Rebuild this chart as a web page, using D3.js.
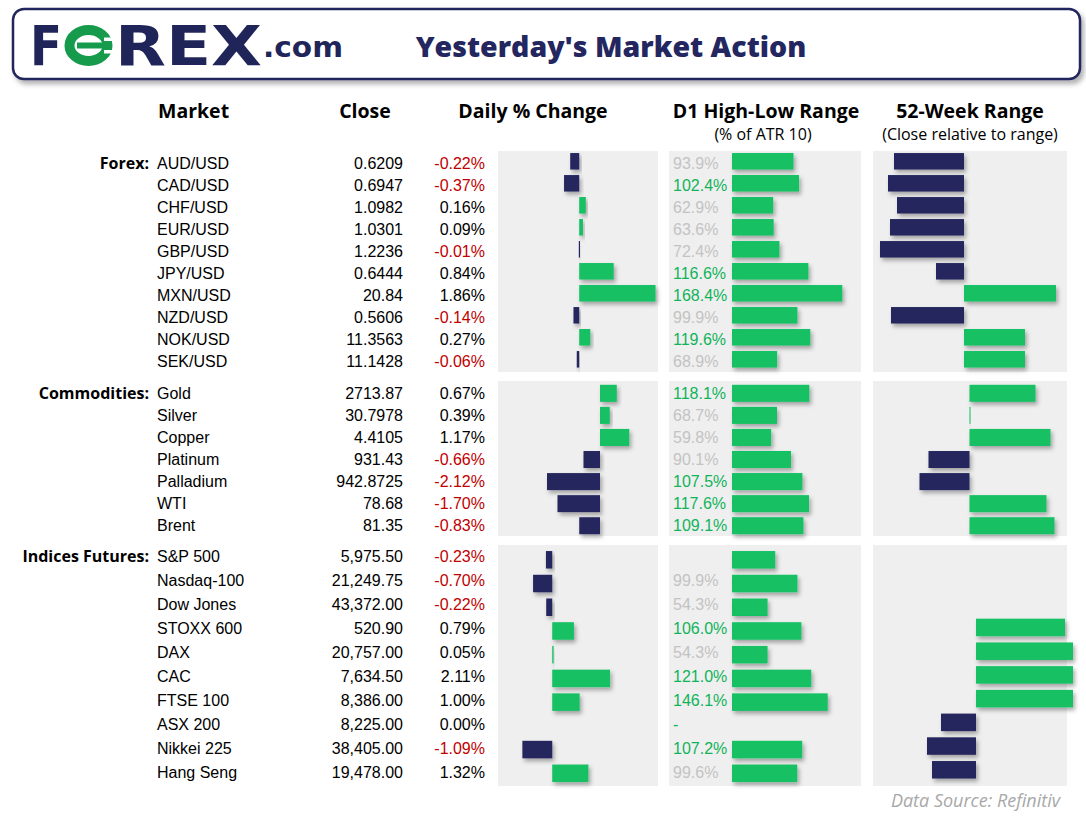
<!DOCTYPE html>
<html>
<head>
<meta charset="utf-8">
<script src="https://cdn.jsdelivr.net/npm/d3@7"></script>
<style>
  html,body{margin:0;padding:0;background:#fff;}
  svg{display:block;}
</style>
</head>
<body>
<svg id="chart" width="1086" height="821"></svg>
<script>
// ---------------- DATA ----------------
const sectionNames = ["Forex:", "Commodities:", "Indices Futures:"];

const forexMarkets = ["AUD/USD","CAD/USD","CHF/USD","EUR/USD","GBP/USD","JPY/USD","MXN/USD","NZD/USD","NOK/USD","SEK/USD"];
const forexClose   = ["0.6209","0.6947","1.0982","1.0301","1.2236","0.6444","20.84","0.5606","11.3563","11.1428"];
const forexChange  = [-0.22,-0.37,0.16,0.09,-0.01,0.84,1.86,-0.14,0.27,-0.06];
const forexD1      = [93.9,102.4,62.9,63.6,72.4,116.6,168.4,99.9,119.6,68.9];
const forexD1Text  = ["93.9%","102.4%","62.9%","63.6%","72.4%","116.6%","168.4%","99.9%","119.6%","68.9%"];
const forex52w     = [-0.70,-0.76,-0.67,-0.74,-0.84,-0.28,0.92,-0.73,0.61,0.61];

const commMarkets = ["Gold","Silver","Copper","Platinum","Palladium","WTI","Brent"];
const commClose   = ["2713.87","30.7978","4.4105","931.43","942.8725","78.68","81.35"];
const commChange  = [0.67,0.39,1.17,-0.66,-2.12,-1.70,-0.83];
const commD1      = [118.1,68.7,59.8,90.1,107.5,117.6,109.1];
const commD1Text  = ["118.1%","68.7%","59.8%","90.1%","107.5%","117.6%","109.1%"];
const comm52w     = [0.66,0.01,0.81,-0.41,-0.50,0.77,0.85];

const idxMarkets = ["S&P 500","Nasdaq-100","Dow Jones","STOXX 600","DAX","CAC","FTSE 100","ASX 200","Nikkei 225","Hang Seng"];
const idxClose   = ["5,975.50","21,249.75","43,372.00","520.90","20,757.00","7,634.50","8,386.00","8,225.00","38,405.00","19,478.00"];
const idxChange  = [-0.23,-0.70,-0.22,0.79,0.05,2.11,1.00,0.00,-1.09,1.32];
const idxD1      = [66.0,99.9,54.3,106.0,54.3,121.0,146.1,null,107.2,99.6];
const idxD1Text  = ["","99.9%","54.3%","106.0%","54.3%","121.0%","146.1%","-","107.2%","99.6%"];
const idx52w     = [null,null,null,0.89,0.97,0.97,0.97,-0.35,-0.49,-0.44];

const columnTitles = ["Market","Close","Daily % Change","D1 High-Low Range","52-Week Range"];
const columnSubtitles = ["(% of ATR 10)","(Close relative to range)"];
const titleText = "Yesterday's Market Action";
const sourceText = "Data Source: Refinitiv";

// ---------------- STYLE / LAYOUT ----------------
const NAVY = "#25265f", GREEN = "#12c063", GREEN_TXT = "#0fb45a", GREY_TXT = "#c3c3c3", RED = "#c00000", PANEL = "#efefef";
const rowFont = "'Liberation Sans', Arial, sans-serif";
const headFont = "'Open Sans', sans-serif";

const panelX = { daily:[498,658], d1:[669,861], wk:[873,1067] };
const d1Start = 732, d1PxPer100 = 65.5;

const layouts = [
  {top:151, bottom:372, first:161.3, pitch:22.0,  textFirst:163.3, textPitch:22.0,  barH:16.5, dailyDomain:[-1.98,1.92], wkZero:964,   wkDy:0},
  {top:381, bottom:536, first:393.3, pitch:22.07, textFirst:393.3, textPitch:22.07, barH:17,   dailyDomain:[-4.08,2.32], wkZero:969.5, wkDy:0},
  {top:545, bottom:786, first:559.8, pitch:23.72, textFirst:556.7, textPitch:24.0,  barH:17.5, dailyDomain:[-1.98,3.86], wkZero:976,   wkDy:-3.5}
];

const sections = [
  {name:sectionNames[0], markets:forexMarkets, close:forexClose, change:forexChange, d1:forexD1, d1Text:forexD1Text, wk:forex52w},
  {name:sectionNames[1], markets:commMarkets,  close:commClose,  change:commChange,  d1:commD1,  d1Text:commD1Text,  wk:comm52w},
  {name:sectionNames[2], markets:idxMarkets,   close:idxClose,   change:idxChange,   d1:idxD1,   d1Text:idxD1Text,   wk:idx52w}
];

const svg = d3.select("#chart");
const defs = svg.append("defs");
const f1 = defs.append("filter").attr("id","barShadow").attr("x","-30%").attr("y","-40%").attr("width","160%").attr("height","200%");
f1.append("feDropShadow").attr("dx",2).attr("dy",3).attr("stdDeviation",2).attr("flood-color","#000").attr("flood-opacity",0.32);
const f2 = defs.append("filter").attr("id","boxShadow").attr("x","-5%").attr("y","-20%").attr("width","110%").attr("height","160%");
f2.append("feDropShadow").attr("dx",3).attr("dy",4).attr("stdDeviation",2.5).attr("flood-color","#000").attr("flood-opacity",0.3);

// ---------------- HEADER BOX ----------------
svg.append("rect").attr("x",13).attr("y",9).attr("width",1067).attr("height",70).attr("rx",11)
  .attr("fill","#fff").attr("stroke","#24275f").attr("stroke-width",2.5).attr("filter","url(#boxShadow)");

// logo
const logo = svg.append("g").attr("font-family","'DejaVu Sans', sans-serif").attr("font-weight","bold").attr("fill","#1f2459");
logo.append("text").attr("x",30).attr("y",65).attr("font-size",55).attr("textLength",32).attr("lengthAdjust","spacingAndGlyphs").text("F");
logo.append("text").attr("x",115).attr("y",65).attr("font-size",55).attr("textLength",147).attr("lengthAdjust","spacingAndGlyphs").text("REX");
logo.append("text").attr("x",263).attr("y",57).attr("font-size",29).attr("textLength",80).attr("lengthAdjust","spacingAndGlyphs").text(".com");
// green O
const og = svg.append("g");
og.append("ellipse").attr("cx",88.5).attr("cy",45.5).attr("rx",19).attr("ry",15.5).attr("fill","none").attr("stroke","#169a4c").attr("stroke-width",10);
og.append("rect").attr("x",77).attr("y",42.5).attr("width",33).attr("height",6).attr("fill","#169a4c");
og.append("rect").attr("x",104).attr("y",37.5).attr("width",9).attr("height",3.5).attr("fill","#fff");
og.append("rect").attr("x",104).attr("y",50).attr("width",9).attr("height",3.5).attr("fill","#fff");

svg.append("text").attr("x",611).attr("y",56.5).attr("text-anchor","middle")
  .attr("font-family",headFont).attr("font-weight",800).attr("font-size",28.5).attr("fill","#24275f").text(titleText);

// ---------------- COLUMN HEADERS ----------------
const headG = svg.append("g").attr("font-family",headFont).attr("font-weight",700).attr("font-size",19.5).attr("fill","#000");
const headPos = [[158,"start"],[365,"middle"],[533,"middle"],[766,"middle"],[970,"middle"]];
columnTitles.forEach((t,i)=>{
  headG.append("text").attr("x",headPos[i][0]).attr("y",118).attr("text-anchor",headPos[i][1]).text(t);
});
const subG = svg.append("g").attr("font-family",headFont).attr("font-size",16).attr("fill","#000").attr("text-anchor","middle");
subG.append("text").attr("x",763).attr("y",139.5).text(columnSubtitles[0]);
subG.append("text").attr("x",970).attr("y",139.5).text(columnSubtitles[1]);

// ---------------- SECTIONS ----------------
const fmtPct = d3.formatLocale({decimal:".", thousands:",", grouping:[3], currency:["",""], minus:"-"}).format(".2f");
const xD1 = d3.scaleLinear().domain([0,100]).range([d1Start, d1Start + d1PxPer100]);

sections.forEach((sec, si) => {
  const L = layouts[si];
  const n = sec.markets.length;
  const y = d3.scalePoint().domain(sec.markets).range([L.first, L.first + (n-1)*L.pitch]);
  const yt = d3.scalePoint().domain(sec.markets).range([L.textFirst, L.textFirst + (n-1)*L.textPitch]);
  const xDaily = d3.scaleLinear().domain(L.dailyDomain).range(panelX.daily);
  const xWk = d3.scaleLinear().domain([-1,1]).range([L.wkZero-100, L.wkZero+100]);
  const g = svg.append("g");

  // panels
  [panelX.daily, panelX.d1, panelX.wk].forEach(p => {
    g.append("rect").attr("x",p[0]).attr("y",L.top).attr("width",p[1]-p[0]).attr("height",L.bottom-L.top).attr("fill",PANEL);
  });

  const rows = sec.markets.map((m,i)=>({m, close:sec.close[i], ch:sec.change[i], d1:sec.d1[i], d1t:sec.d1Text[i], wk:sec.wk[i]}));

  // section label
  g.append("text").attr("x",149).attr("y",yt(sec.markets[0])).attr("dy","0.36em")
    .attr("text-anchor","end").attr("font-family",headFont).attr("font-weight",700).attr("font-size",16).text(sec.name);

  const tg = g.append("g").attr("font-family",rowFont).attr("font-size",16);
  tg.selectAll("text.mkt").data(rows).join("text").attr("class","mkt")
    .attr("x",157).attr("y",d=>yt(d.m)).attr("dy","0.36em").attr("fill","#000").text(d=>d.m);
  tg.selectAll("text.cls").data(rows).join("text").attr("class","cls")
    .attr("x",403).attr("y",d=>yt(d.m)).attr("dy","0.36em").attr("text-anchor","end").attr("fill","#000").text(d=>d.close);
  tg.selectAll("text.chg").data(rows).join("text").attr("class","chg")
    .attr("x",485).attr("y",d=>yt(d.m)).attr("dy","0.36em").attr("text-anchor","end")
    .attr("fill",d=>d.ch<0?RED:"#000").text(d=>fmtPct(d.ch)+"%");

  // daily bars
  g.selectAll("rect.daily").data(rows.filter(d=>d.ch!==0)).join("rect").attr("class","daily")
    .attr("x",d=>Math.min(xDaily(0),xDaily(d.ch))).attr("width",d=>Math.max(1.2,Math.abs(xDaily(d.ch)-xDaily(0))))
    .attr("y",d=>y(d.m)-L.barH/2).attr("height",L.barH)
    .attr("fill",d=>d.ch<0?NAVY:GREEN).attr("filter","url(#barShadow)");

  // D1 bars + labels
  g.selectAll("rect.d1").data(rows.filter(d=>d.d1!=null)).join("rect").attr("class","d1")
    .attr("x",xD1(0)).attr("width",d=>xD1(d.d1)-xD1(0))
    .attr("y",d=>y(d.m)-L.barH/2).attr("height",L.barH)
    .attr("fill",GREEN).attr("filter","url(#barShadow)");
  tg.selectAll("text.d1t").data(rows).join("text").attr("class","d1t")
    .attr("x",673).attr("y",d=>yt(d.m)).attr("dy","0.36em")
    .attr("fill",d=>(d.d1==null||d.d1>=100)?GREEN_TXT:GREY_TXT).text(d=>d.d1t);

  // 52-week bars
  g.selectAll("rect.wk").data(rows.filter(d=>d.wk!=null)).join("rect").attr("class","wk")
    .attr("x",d=>Math.min(xWk(0),xWk(d.wk))).attr("width",d=>Math.max(1,Math.abs(xWk(d.wk)-xWk(0))))
    .attr("y",d=>y(d.m)-L.barH/2+L.wkDy).attr("height",L.barH)
    .attr("fill",d=>d.wk<0?NAVY:GREEN).attr("filter","url(#barShadow)");
});

svg.append("text").attr("x",1060).attr("y",807).attr("text-anchor","end")
  .attr("font-family",headFont).attr("font-style","italic").attr("font-size",18).attr("fill","#a8a8a8").text(sourceText);
</script>
</body>
</html>
